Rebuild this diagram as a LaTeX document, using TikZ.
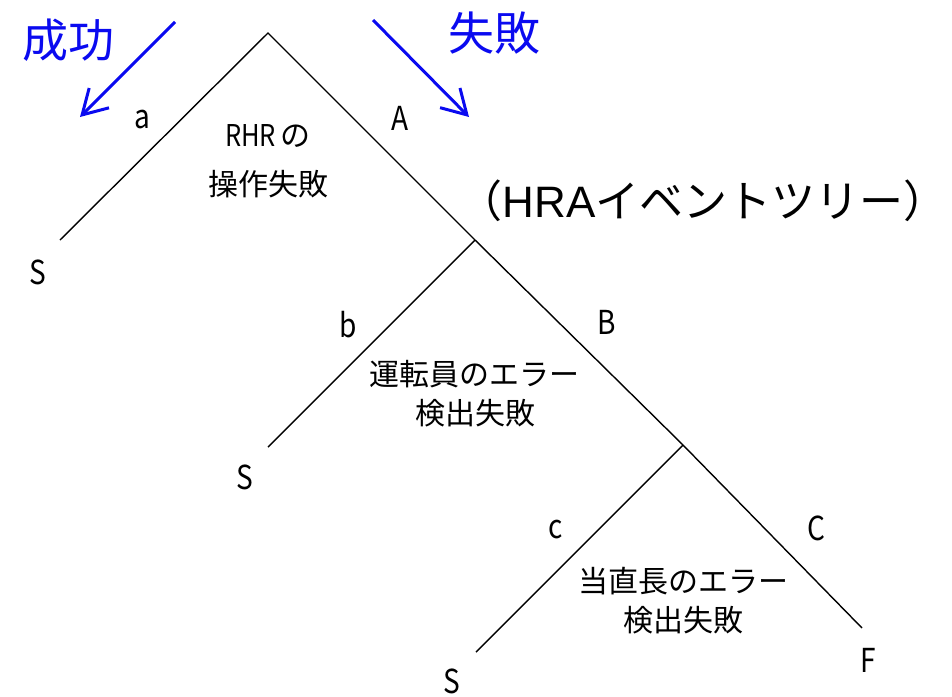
\documentclass[tikz,border=0pt]{standalone}
\usepackage{fontspec}
\setmainfont{Noto Sans CJK JP}
\newfontfamily\arialf{Liberation Sans}
\usetikzlibrary{arrows.meta}
\definecolor{tblue}{RGB}{10,10,240}
\begin{document}
\begin{tikzpicture}[x=1pt,y=-1pt,
  branch/.style={line width=1.4pt,black},
  letter/.style={inner sep=0pt,font=\fontsize{33}{33}\selectfont},
  desc/.style={inner sep=0pt,font=\fontsize{30}{30}\selectfont,align=center},
  bluelab/.style={inner sep=0pt,text=tblue,font=\fontsize{46}{46}\selectfont},
  bluearrow/.style={tblue,line width=3pt,-{Straight Barb[length=24pt,width=28pt,line width=3pt]}}]
\path[use as bounding box] (0,0) rectangle (952,696);
% tree points
\coordinate (top) at (268,33);
\coordinate (n1) at (475,240);
\coordinate (n2) at (683,445);
\coordinate (e1) at (60,240);
\coordinate (e2) at (268,447);
\coordinate (e3) at (476,652);
\coordinate (eF) at (862,628);
\draw[branch] (e1) -- (top) -- (n1) -- (n2) -- (eF);
\draw[branch] (n1) -- (e2);
\draw[branch] (n2) -- (e3);
% labels
\node[letter] (la) at (142,120) {\scalebox{0.85}[1]{a}};
\node[letter] (lA) at (400,118) {\scalebox{0.85}[1]{A}};
\node[letter] (lb) at (348,325) {\scalebox{0.85}[1]{b}};
\node[letter] (lB) at (607,322) {\scalebox{0.85}[1]{B}};
\node[letter] (lc) at (556,530) {\scalebox{0.85}[1]{c}};
\node[letter] (lC) at (816,528) {\scalebox{0.85}[1]{C}};
\node[letter] (s1) at (38,272) {\scalebox{0.85}[1]{S}};
\node[letter] (s2) at (245,477) {\scalebox{0.85}[1]{S}};
\node[letter] (s3) at (452,681) {\scalebox{0.85}[1]{S}};
\node[letter] (f1) at (868,660) {\scalebox{0.85}[1]{F}};
\node[desc] (d1a) at (268,136) {\scalebox{0.85}[1]{RHR}\,の};
\node[desc] (d1b) at (268,184) {操作失敗};
\node[desc] (d2a) at (474,374) {運転員のエラー};
\node[desc] (d2b) at (475,413) {検出失敗};
\node[desc] (d3a) at (683,581) {当直長のエラー};
\node[desc] (d3b) at (683,620) {検出失敗};
% title
\node[inner sep=0pt,anchor=base,font=\fontsize{44}{44}\selectfont] (title) at (703,217) {（{\arialf HRA}イベントツリー）};
% blue annotations
\node[bluelab] (succ) at (68,40) {成功};
\node[bluelab] (fail) at (494,33) {失敗};
\coordinate (sa1) at (175,22);
\coordinate (sa2) at (80,117);
\coordinate (fa1) at (373,20);
\coordinate (fa2) at (469,117);
\draw[bluearrow] (sa1) -- (sa2);
\draw[bluearrow] (fa1) -- (fa2);
\end{tikzpicture}
\end{document}
